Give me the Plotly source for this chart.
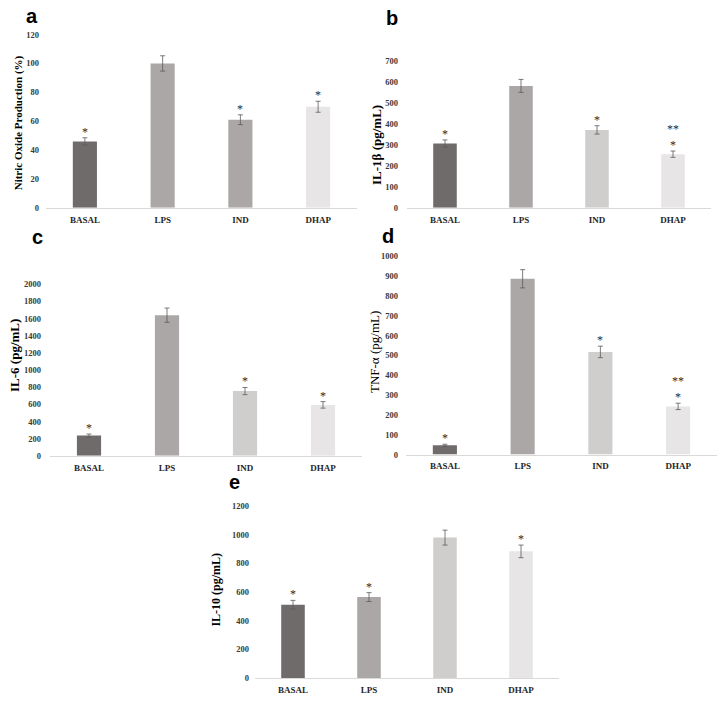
import plotly.graph_objects as go

categories = ["BASAL", "LPS", "IND", "DHAP"]

# Panel a: Nitric oxide production (%)
a_values = [46, 100, 61, 70]
a_errors = [2.5, 5.3, 3.4, 3.8]
a_sig = ["*", "", "*", "*"]
a_sig2 = ["", "", "", ""]

# Panel b: IL-1β (pg/mL)
b_values = [307, 582, 372, 256]
b_errors = [17, 31, 20, 15]
b_sig = ["*", "", "*", "*"]
b_sig2 = ["", "", "", "**"]

# Panel c: IL-6 (pg/mL)
c_values = [236, 1640, 755, 594]
c_errors = [18, 83, 42, 38]
c_sig = ["*", "", "*", "*"]
c_sig2 = ["", "", "", ""]

# Panel d: TNF-α (pg/mL)
d_values = [47, 887, 518, 243]
d_errors = [5, 46, 29, 16]
d_sig = ["*", "", "*", "*"]
d_sig2 = ["", "", "", "**"]

# Panel e: IL-10 (pg/mL)
e_values = [512, 565, 980, 884]
e_errors = [30, 31, 52, 44]
e_sig = ["*", "*", "", "*"]
e_sig2 = ["", "", "", ""]

W, H = 720, 706

def px_x(x):
    return x / W

def px_y(y):
    return 1 - y / H

panels = [
    dict(key="a", values=a_values, errors=a_errors, sig=a_sig, sig2=a_sig2,
         colors=["#706b6b", "#aba7a6", "#aba7a6", "#e7e5e5"],
         x0=46, x1=357, ybot=205.7, ytop=30, ymax=120, dtick=20,
         title="Nitric Oxide Production (%)", tx=18, ty=120, tsize=11, tbold=True,
         lx=32, ly=11, ystand=6),
    dict(key="b", values=b_values, errors=b_errors, sig=b_sig, sig2=b_sig2,
         colors=["#706b6b", "#aba7a6", "#d0cecd", "#e7e5e5"],
         x0=407, x1=711, ybot=205.7, ytop=57, ymax=700, dtick=100,
         title="IL-1β (pg/mL)", tx=377, ty=142, tsize=13, tbold=True,
         lx=392, ly=13, ystand=8),
    dict(key="c", values=c_values, errors=c_errors, sig=c_sig, sig2=c_sig2,
         colors=["#706b6b", "#aba7a6", "#d0cecd", "#e7e5e5"],
         x0=50, x1=362, ybot=457.3, ytop=283.3, ymax=2000, dtick=200,
         title="IL-6 (pg/mL)", tx=15, ty=356, tsize=13, tbold=True,
         lx=37, ly=235, ystand=8),
    dict(key="d", values=d_values, errors=d_errors, sig=d_sig, sig2=d_sig2,
         colors=["#706b6b", "#aba7a6", "#d0cecd", "#e7e5e5"],
         x0=406, x1=717, ybot=456, ytop=255, ymax=1000, dtick=100,
         title="TNF-α (pg/mL)", tx=374, ty=352, tsize=13, tbold=False,
         lx=388, ly=234, ystand=7),
    dict(key="e", values=e_values, errors=e_errors, sig=e_sig, sig2=e_sig2,
         colors=["#706b6b", "#aba7a6", "#d0cecd", "#e7e5e5"],
         x0=255, x1=559, ybot=682.7, ytop=508.3, ymax=1200, dtick=200,
         title="IL-10 (pg/mL)", tx=216, ty=593, tsize=12, tbold=True,
         lx=234, ly=484, ystand=5),
]

fig = go.Figure()
annotations = []
layout_axes = {}
serif = "Liberation Serif"

for i, p in enumerate(panels, start=1):
    xa = "x" if i == 1 else f"x{i}"
    ya = "y" if i == 1 else f"y{i}"
    xkey = "xaxis" if i == 1 else f"xaxis{i}"
    ykey = "yaxis" if i == 1 else f"yaxis{i}"
    fig.add_trace(go.Bar(
        x=categories, y=p["values"], xaxis=xa, yaxis=ya,
        marker=dict(color=p["colors"], line=dict(width=0)),
        width=0.31,
        error_y=dict(type="data", array=p["errors"], visible=True,
                     color="#5a5a5a", thickness=0.8, width=2.5),
        showlegend=False, hoverinfo="skip",
    ))
    layout_axes[xkey] = dict(
        domain=[px_x(p["x0"]), px_x(p["x1"])], anchor=ya,
        showgrid=False, zeroline=False, showline=True, linecolor="#d9d9d9",
        linewidth=1, ticks="", fixedrange=True,
        tickfont=dict(family=serif, size=9, color="#262626", weight="bold"),
        ticklabelstandoff=3,
    )
    layout_axes[ykey] = dict(
        domain=[px_y(p["ybot"]), px_y(p["ytop"])], anchor=xa,
        range=[0, p["ymax"]], dtick=p["dtick"], showgrid=False,
        zeroline=False, showline=False, ticks="", fixedrange=True,
        tickfont=dict(family=serif, size=8.5, color="#3a3a3a", weight="bold"),
        ticklabelstandoff=p["ystand"],
    )
    for cat, v, e, s1, s2 in zip(categories, p["values"], p["errors"], p["sig"], p["sig2"]):
        if s1:
            annotations.append(dict(
                x=cat, y=v + e, xref=xa, yref=ya, text=s1, showarrow=False,
                yanchor="bottom", yshift=-3,
                font=dict(family=serif, size=12, color="#2a2a2a")))
        if s2:
            annotations.append(dict(
                x=cat, y=v + e, xref=xa, yref=ya, text=s2, showarrow=False,
                yanchor="bottom", yshift=13,
                font=dict(family=serif, size=12, color="#2a2a2a")))
    annotations.append(dict(
        x=px_x(p["tx"]), y=px_y(p["ty"]), xref="paper", yref="paper",
        text=(f"<b>{p['title']}</b>" if p["tbold"] else p["title"]),
        textangle=-90, showarrow=False, xanchor="center", yanchor="middle",
        font=dict(family=serif, size=p["tsize"], color="#000000")))
    annotations.append(dict(
        x=px_x(p["lx"]), y=px_y(p["ly"]), xref="paper", yref="paper",
        text=f"<b>{p['key']}</b>", showarrow=False, xanchor="center",
        yanchor="middle",
        font=dict(family="Liberation Sans", size=20, color="#000000")))

fig.update_layout(
    width=W, height=H, margin=dict(l=0, r=0, t=0, b=0),
    paper_bgcolor="white", plot_bgcolor="white",
    annotations=annotations, **layout_axes,
)

fig.write_html("out.html",
               config={"displayModeBar": False},
               post_script="document.body.style.margin='0';document.body.style.overflow='hidden';")
